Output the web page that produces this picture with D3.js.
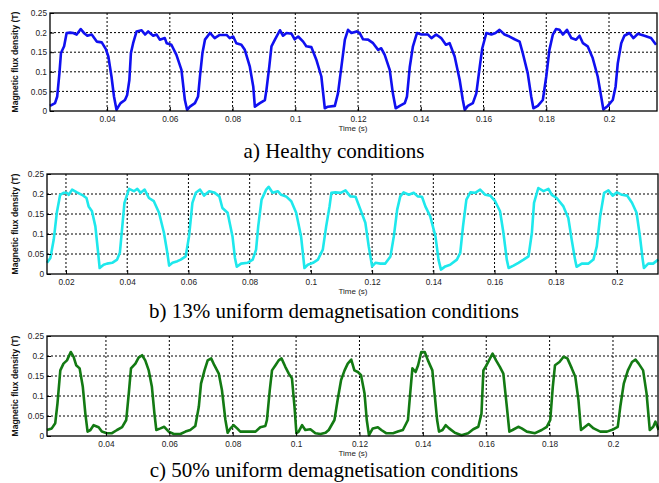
<!DOCTYPE html>
<html>
<head>
<meta charset="utf-8">
<script src="https://cdn.jsdelivr.net/npm/d3@7"></script>
<style>
  body { margin: 0; background: #fff; }
  svg { display: block; }
  .tick text { font-family: Arial, "Liberation Sans", sans-serif; }
</style>
</head>
<body>
<div id="fig"></div>
<script>
// values: [time (s), flux density (T)]
var healthy = [
 [0.0218,0.013],[0.0234,0.020],[0.0241,0.037],[0.0248,0.096],[0.0253,0.148],[0.0263,0.165],[0.0271,0.199],[0.0282,0.200],[0.0292,0.199],[0.0303,0.195],[0.0316,0.209],[0.0329,0.197],[0.0337,0.192],[0.0351,0.195],[0.0367,0.177],[0.0383,0.175],[0.0396,0.158],[0.0404,0.139],[0.0414,0.088],[0.0422,0.037],[0.0430,0.003],[0.0436,0.011],[0.0443,0.020],[0.0457,0.028],[0.0464,0.041],[0.0471,0.079],[0.0476,0.148],[0.0483,0.173],[0.0494,0.203],[0.0510,0.206],[0.0521,0.195],[0.0531,0.203],[0.0547,0.192],[0.0558,0.195],[0.0568,0.182],[0.0584,0.186],[0.0590,0.173],[0.0605,0.169],[0.0621,0.143],[0.0637,0.105],[0.0648,0.028],[0.0655,0.003],[0.0664,0.011],[0.0680,0.020],[0.0690,0.037],[0.0696,0.088],[0.0704,0.148],[0.0712,0.182],[0.0728,0.199],[0.0743,0.186],[0.0759,0.194],[0.0781,0.194],[0.0791,0.186],[0.0802,0.190],[0.0812,0.173],[0.0828,0.169],[0.0839,0.156],[0.0855,0.113],[0.0866,0.062],[0.0871,0.011],[0.0887,0.020],[0.0903,0.028],[0.0908,0.054],[0.0917,0.113],[0.0924,0.165],[0.0935,0.182],[0.0951,0.206],[0.0961,0.192],[0.0972,0.199],[0.0988,0.197],[0.0998,0.183],[0.1009,0.190],[0.1025,0.177],[0.1035,0.165],[0.1051,0.163],[0.1067,0.131],[0.1083,0.088],[0.1094,0.007],[0.1104,0.011],
 [0.1126,0.013],[0.1136,0.045],[0.1147,0.113],[0.1158,0.182],[0.1168,0.207],[0.1179,0.199],[0.1195,0.203],[0.1205,0.199],[0.1216,0.183],[0.1232,0.182],[0.1248,0.173],[0.1264,0.156],[0.1274,0.160],[0.1285,0.143],[0.1301,0.105],[0.1311,0.045],[0.1320,0.007],[0.1333,0.013],[0.1349,0.020],[0.1356,0.037],[0.1365,0.113],[0.1375,0.165],[0.1388,0.199],[0.1402,0.195],[0.1423,0.195],[0.1434,0.186],[0.1449,0.195],[0.1465,0.186],[0.1480,0.169],[0.1492,0.173],[0.1508,0.139],[0.1524,0.079],[0.1534,0.028],[0.1540,0.003],[0.1550,0.013],[0.1566,0.020],[0.1577,0.045],[0.1588,0.113],[0.1596,0.160],[0.1609,0.199],[0.1625,0.195],[0.1638,0.199],[0.1651,0.207],[0.1667,0.195],[0.1683,0.190],[0.1699,0.183],[0.1715,0.177],[0.1725,0.148],[0.1741,0.096],[0.1752,0.037],[0.1759,0.007],[0.1773,0.013],[0.1789,0.028],[0.1800,0.088],[0.1810,0.156],[0.1821,0.195],[0.1831,0.209],[0.1842,0.207],[0.1853,0.195],[0.1866,0.207],[0.1880,0.186],[0.1895,0.182],[0.1906,0.192],[0.1917,0.173],[0.1932,0.165],[0.1948,0.135],[0.1964,0.088],[0.1975,0.037],[0.1982,0.004],[0.1996,0.013],[0.2012,0.028],[0.2021,0.062],[0.2028,0.122],[0.2039,0.173],[0.2049,0.192],[0.2065,0.199],[0.2078,0.186],[0.2092,0.197],[0.2113,0.192],[0.2134,0.186],[0.2150,0.169]
];

var demag13 = [
 [0.0138,0.028],[0.0149,0.040],[0.0160,0.086],[0.0170,0.153],[0.0181,0.198],[0.0192,0.203],[0.0203,0.203],[0.0209,0.198],[0.0220,0.211],[0.0236,0.204],[0.0252,0.198],[0.0267,0.190],[0.0274,0.169],[0.0285,0.157],[0.0296,0.119],[0.0304,0.061],[0.0310,0.015],[0.0323,0.023],[0.0334,0.026],[0.0351,0.028],[0.0367,0.036],[0.0376,0.053],[0.0384,0.119],[0.0391,0.178],[0.0406,0.213],[0.0422,0.207],[0.0433,0.213],[0.0444,0.203],[0.0457,0.211],[0.0471,0.190],[0.0487,0.182],[0.0504,0.153],[0.0520,0.103],[0.0531,0.053],[0.0537,0.021],[0.0548,0.028],[0.0564,0.032],[0.0575,0.036],[0.0591,0.044],[0.0602,0.094],[0.0613,0.178],[0.0624,0.203],[0.0638,0.211],[0.0651,0.196],[0.0668,0.207],[0.0684,0.204],[0.0701,0.194],[0.0711,0.165],[0.0728,0.153],[0.0744,0.094],[0.0752,0.040],[0.0758,0.018],[0.0772,0.026],[0.0793,0.028],[0.0810,0.036],[0.0821,0.061],[0.0828,0.119],[0.0839,0.186],[0.0854,0.211],[0.0862,0.218],[0.0875,0.203],[0.0892,0.207],[0.0903,0.198],[0.0919,0.194],[0.0936,0.182],[0.0952,0.153],[0.0968,0.094],[0.0979,0.015],[0.0990,0.023],[0.1007,0.028],[0.1023,0.036],[0.1039,0.061],[0.1050,0.119],[0.1061,0.169],
 [0.1067,0.203],[0.1080,0.204],[0.1097,0.203],[0.1113,0.209],[0.1129,0.194],[0.1146,0.193],[0.1162,0.161],[0.1178,0.128],[0.1189,0.069],[0.1200,0.019],[0.1211,0.028],[0.1227,0.026],[0.1243,0.026],[0.1260,0.044],[0.1271,0.094],[0.1282,0.161],[0.1292,0.194],[0.1303,0.204],[0.1320,0.198],[0.1336,0.203],[0.1349,0.194],[0.1363,0.193],[0.1374,0.169],[0.1390,0.144],[0.1407,0.094],[0.1417,0.036],[0.1425,0.011],[0.1439,0.019],[0.1455,0.023],[0.1477,0.036],[0.1488,0.053],[0.1497,0.119],[0.1508,0.186],[0.1521,0.204],[0.1537,0.203],[0.1553,0.211],[0.1570,0.198],[0.1586,0.196],[0.1602,0.182],[0.1618,0.157],[0.1629,0.103],[0.1640,0.036],[0.1646,0.015],[0.1662,0.021],[0.1678,0.028],[0.1695,0.036],[0.1711,0.044],[0.1722,0.103],[0.1729,0.178],[0.1743,0.215],[0.1760,0.207],[0.1776,0.213],[0.1787,0.198],[0.1803,0.190],[0.1825,0.169],[0.1841,0.140],[0.1852,0.086],[0.1863,0.036],[0.1868,0.018],[0.1885,0.026],[0.1907,0.026],[0.1923,0.036],[0.1934,0.069],[0.1945,0.144],[0.1958,0.203],[0.1972,0.209],[0.1986,0.196],[0.2000,0.204],[0.2016,0.198],[0.2033,0.196],[0.2049,0.178],[0.2064,0.153],[0.2075,0.094],[0.2084,0.036],[0.2088,0.015],[0.2102,0.026],[0.2118,0.026],[0.2135,0.036]
];

var demag50 = [
 [0.0214,0.015],[0.0229,0.019],[0.0240,0.032],[0.0247,0.081],[0.0256,0.164],[0.0266,0.181],[0.0277,0.189],[0.0289,0.210],[0.0298,0.198],[0.0306,0.177],[0.0317,0.169],[0.0327,0.123],[0.0335,0.056],[0.0342,0.011],[0.0351,0.015],[0.0361,0.027],[0.0377,0.022],[0.0387,0.011],[0.0403,0.007],[0.0419,0.007],[0.0435,0.015],[0.0451,0.022],[0.0464,0.040],[0.0472,0.106],[0.0479,0.169],[0.0493,0.181],[0.0503,0.196],[0.0514,0.202],[0.0524,0.189],[0.0535,0.164],[0.0545,0.123],[0.0553,0.056],[0.0559,0.015],[0.0572,0.019],[0.0584,0.023],[0.0598,0.011],[0.0614,0.005],[0.0635,0.005],[0.0651,0.011],[0.0666,0.015],[0.0682,0.025],[0.0693,0.073],[0.0700,0.131],[0.0711,0.164],[0.0721,0.189],[0.0732,0.194],[0.0742,0.177],[0.0756,0.156],[0.0766,0.115],[0.0777,0.040],[0.0784,0.008],[0.0793,0.019],[0.0803,0.027],[0.0814,0.019],[0.0824,0.011],[0.0851,0.011],[0.0872,0.011],[0.0887,0.022],[0.0903,0.025],[0.0908,0.040],[0.0917,0.115],[0.0924,0.164],[0.0935,0.177],[0.0945,0.189],[0.0954,0.194],[0.0966,0.173],[0.0977,0.156],[0.0987,0.144],[0.0995,0.073],[0.1001,0.007],[0.1008,0.011],[0.1019,0.027],[0.1029,0.015],[0.1045,0.017],[0.1061,0.007],[0.1077,0.005],[0.1093,0.008],[0.1103,0.015],
 [0.1121,0.040],[0.1131,0.090],[0.1142,0.140],[0.1153,0.164],[0.1163,0.181],[0.1174,0.191],[0.1184,0.164],[0.1195,0.160],[0.1205,0.152],[0.1216,0.106],[0.1223,0.040],[0.1230,0.002],[0.1242,0.019],[0.1258,0.022],[0.1269,0.015],[0.1284,0.007],[0.1306,0.007],[0.1321,0.011],[0.1337,0.015],[0.1353,0.040],[0.1360,0.106],[0.1367,0.169],[0.1377,0.160],[0.1385,0.177],[0.1395,0.210],[0.1406,0.210],[0.1416,0.189],[0.1430,0.164],[0.1437,0.106],[0.1445,0.040],[0.1451,0.011],[0.1462,0.015],[0.1472,0.027],[0.1483,0.019],[0.1501,0.008],[0.1522,0.002],[0.1543,0.007],[0.1559,0.017],[0.1575,0.023],[0.1585,0.056],[0.1591,0.164],[0.1601,0.177],[0.1612,0.194],[0.1620,0.206],[0.1631,0.189],[0.1643,0.173],[0.1654,0.156],[0.1664,0.081],[0.1673,0.011],[0.1683,0.015],[0.1701,0.023],[0.1712,0.019],[0.1728,0.011],[0.1754,0.007],[0.1775,0.015],[0.1791,0.023],[0.1802,0.040],[0.1810,0.123],[0.1817,0.177],[0.1831,0.185],[0.1844,0.198],[0.1856,0.194],[0.1870,0.169],[0.1881,0.148],[0.1891,0.090],[0.1899,0.015],[0.1912,0.023],[0.1923,0.030],[0.1939,0.019],[0.1960,0.011],[0.1981,0.011],[0.2002,0.017],[0.2015,0.023],[0.2023,0.073],[0.2034,0.131],[0.2047,0.164],[0.2060,0.185],[0.2071,0.191],[0.2081,0.181],[0.2095,0.164],[0.2106,0.106],[0.2116,0.015],[0.2127,0.023],[0.2134,0.036],[0.2144,0.015]
];

var yTicks = [0, 0.05, 0.1, 0.15, 0.2, 0.25];
var xTicksA = [0.04, 0.06, 0.08, 0.1, 0.12, 0.14, 0.16, 0.18, 0.2];
var xTicksB = [0.02, 0.04, 0.06, 0.08, 0.1, 0.12, 0.14, 0.16, 0.18, 0.2];
var xTicksC = [0.04, 0.06, 0.08, 0.1, 0.12, 0.14, 0.16, 0.18, 0.2];
var captions = ["a) Healthy conditions",
                "b) 13% uniform demagnetisation conditions",
                "c) 50% uniform demagnetisation conditions"];

var W = 659, H = 483;
var svg = d3.select("#fig").append("svg")
            .attr("width", W)
            .attr("height", H);

// one panel per condition
var panels = [
  {data: healthy, color: "#1010f0", xd: [0.0218, 0.2153], ticks: xTicksA, l: 50, r: 657, t: 13, b: 111, cap: captions[0], capY: 158},
  {data: demag13, color: "#1ee8ec", xd: [0.0138, 0.2134], ticks: xTicksB, l: 47, r: 658, t: 174, b: 274, cap: captions[1], capY: 318},
  {data: demag50, color: "#137a13", xd: [0.0214, 0.2142], ticks: xTicksC, l: 47, r: 658, t: 336, b: 436, cap: captions[2], capY: 477}
];

function fmt(d){ return d === 0 ? "0" : String(+d.toFixed(2)); }

panels.forEach(function(p){
  var x = d3.scaleLinear().domain(p.xd).range([p.l, p.r]);
  var y = d3.scaleLinear().domain([0, 0.25]).range([p.b, p.t]);
  var g = svg.append("g");

  // dotted grid
  g.selectAll(".vg").data(p.ticks).enter().append("line")
    .attr("x1", function(d){ return x(d); }).attr("x2", function(d){ return x(d); })
    .attr("y1", p.t).attr("y2", p.b)
    .attr("stroke", "#000").attr("stroke-width", 1)
    .attr("stroke-dasharray", "2,2");
  g.selectAll(".hg").data(yTicks.slice(1, 5)).enter().append("line")
    .attr("x1", p.l).attr("x2", p.r)
    .attr("y1", function(d){ return y(d); }).attr("y2", function(d){ return y(d); })
    .attr("stroke", "#000").attr("stroke-width", 1)
    .attr("stroke-dasharray", "2,2");

  var line = d3.line()
    .x(function(d){ return x(d[0]); })
    .y(function(d){ return y(d[1]); });

  g.append("path")
    .attr("d", line(p.data))
    .attr("fill", "none")
    .attr("stroke", p.color)
    .attr("stroke-width", 2.6)
    .attr("stroke-linejoin", "round");

  // axes, ticks pointing inwards like matlab
  var xa = g.append("g").attr("transform", "translate(0," + p.b + ")")
    .call(d3.axisBottom(x).tickValues(p.ticks).tickSize(-4).tickPadding(5).tickFormat(fmt));
  var ya = g.append("g").attr("transform", "translate(" + p.l + ",0)")
    .call(d3.axisLeft(y).tickValues(yTicks).tickSize(-4).tickPadding(3).tickFormat(fmt));
  [xa, ya].forEach(function(a){
    a.select(".domain").remove();
    a.selectAll("text").attr("font-size", 8.3).attr("fill", "#222");
    a.selectAll("line").attr("stroke", "#000");
  });

  g.append("rect")
    .attr("x", p.l).attr("y", p.t)
    .attr("width", p.r - p.l).attr("height", p.b - p.t)
    .attr("fill", "none").attr("stroke", "#000").attr("stroke-width", 1.3);

  g.append("text")
    .attr("x", 353).attr("y", p.b + 20)
    .attr("text-anchor", "middle")
    .attr("font-family", "Arial, 'Liberation Sans', sans-serif")
    .attr("font-size", 8).attr("fill", "#222")
    .text("Time (s)");

  g.append("text")
    .attr("transform", "translate(18," + ((p.t + p.b) / 2) + ") rotate(-90)")
    .attr("text-anchor", "middle")
    .attr("font-family", "Arial, 'Liberation Sans', sans-serif")
    .attr("font-weight", "bold")
    .attr("font-size", 8.6).attr("fill", "#111")
    .text("Magnetic flux density (T)");

  g.append("text")
    .attr("x", 334).attr("y", p.capY)
    .attr("text-anchor", "middle")
    .attr("font-family", "'Times New Roman', 'Liberation Serif', serif")
    .attr("font-size", 21).attr("fill", "#000")
    .text(p.cap);
});
</script>
</body>
</html>
